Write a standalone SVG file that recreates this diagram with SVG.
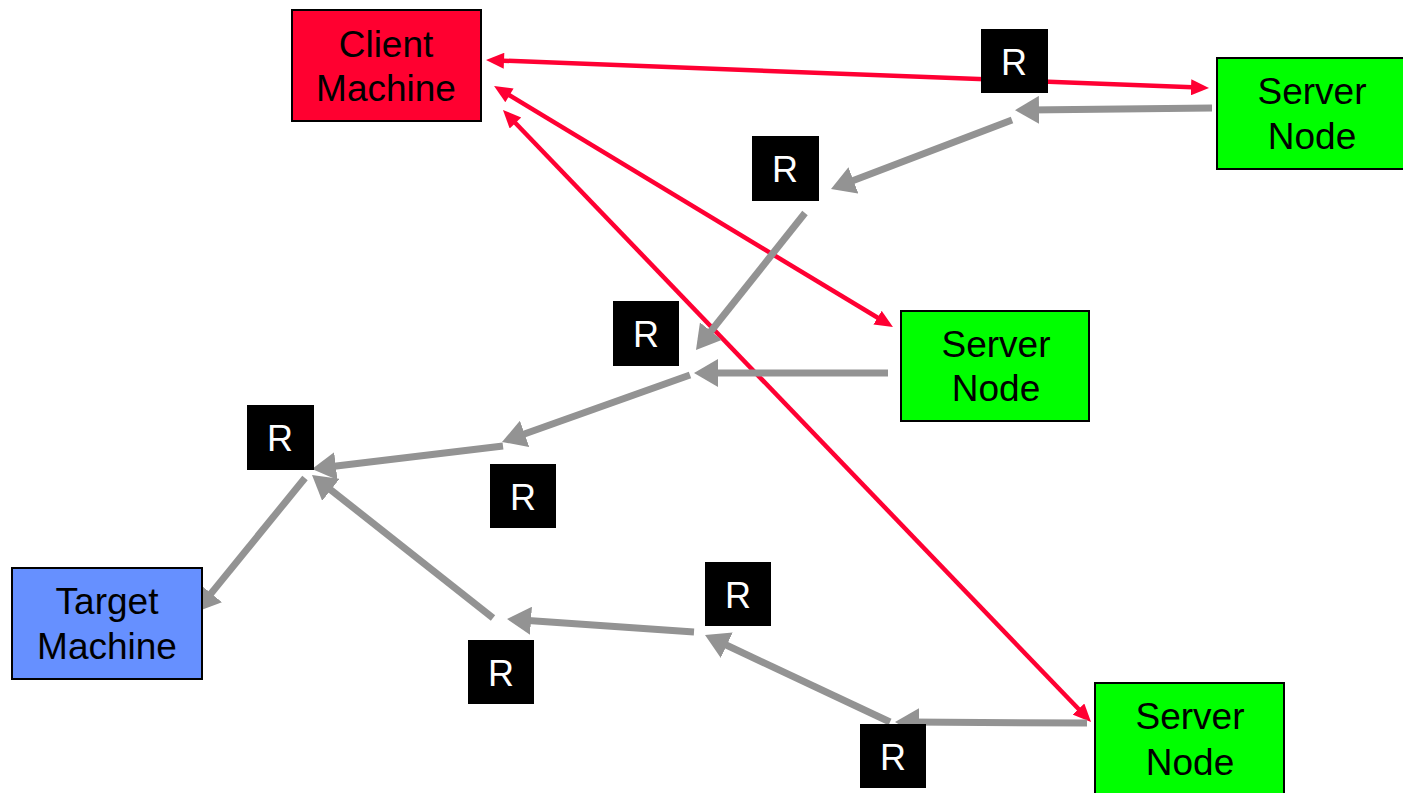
<svg xmlns="http://www.w3.org/2000/svg" width="1403" height="793" viewBox="0 0 1403 793">
<style>
.box{stroke:#000;stroke-width:2}
.lbl{font-family:"Liberation Sans",Arial,sans-serif;font-size:37px;text-anchor:middle;fill:#000}
.r rect{fill:#000}
.r text{font-family:"Liberation Sans",Arial,sans-serif;font-size:36px;text-anchor:middle;fill:#fff}
.red{stroke:#ff0033;stroke-width:4.5;fill:none;marker-start:url(#rs);marker-end:url(#re)}
.gray{stroke:#939393;stroke-width:7;fill:none;marker-end:url(#ge)}
</style>
<defs>
<marker id="re" markerUnits="userSpaceOnUse" markerWidth="20" markerHeight="16" refX="8" refY="8" orient="auto"><path d="M0,0 L18,8 L0,16 Z" fill="#ff0033"/></marker>
<marker id="rs" markerUnits="userSpaceOnUse" markerWidth="20" markerHeight="16" refX="10" refY="8" orient="auto"><path d="M18,0 L0,8 L18,16 Z" fill="#ff0033"/></marker>
<marker id="ge" markerUnits="userSpaceOnUse" markerWidth="26" markerHeight="28" refX="10" refY="14" orient="auto"><path d="M0,0 L24,14 L0,28 Z" fill="#939393"/></marker>
</defs>
<rect width="1403" height="793" fill="#fff"/>
<g id="connectors">
<line class="red" x1="496" y1="60.4" x2="1199" y2="87.6"/>
<line class="red" x1="502.6" y1="91.2" x2="884.4" y2="321.8"/>
<line class="red" x1="509.9" y1="117.2" x2="1084.1" y2="714.8"/>
<line class="gray" x1="1212" y1="108" x2="1029" y2="110"/>
<line class="gray" x1="1012" y1="120" x2="844.1" y2="184"/>
<line class="gray" x1="805" y1="213" x2="704.7" y2="339"/>
<line class="gray" x1="888" y1="373" x2="708" y2="373"/>
<line class="gray" x1="690" y1="375" x2="515.2" y2="437.3"/>
<line class="gray" x1="503" y1="446" x2="325.9" y2="467.3"/>
<line class="gray" x1="305" y1="478" x2="204.8" y2="601.1"/>
<line class="gray" x1="1087" y1="723" x2="909" y2="722.1"/>
<line class="gray" x1="890" y1="722" x2="717.7" y2="641"/>
<line class="gray" x1="694" y1="632" x2="521" y2="620"/>
<line class="gray" x1="493" y1="618" x2="323" y2="483.7"/>
</g>
<g id="client">
<rect class="box" x="292" y="10" width="189" height="111" fill="#ff0030"/>
<text class="lbl" x="386" y="57">Client</text>
<text class="lbl" x="386" y="101">Machine</text>
</g>
<g id="server1">
<rect class="box" x="1217" y="58" width="190" height="111" fill="#00ff00"/>
<text class="lbl" x="1312" y="104">Server</text>
<text class="lbl" x="1312" y="149">Node</text>
</g>
<g id="server2">
<rect class="box" x="901" y="311" width="188" height="110" fill="#00ff00"/>
<text class="lbl" x="996" y="357">Server</text>
<text class="lbl" x="996" y="401">Node</text>
</g>
<g id="server3">
<rect class="box" x="1095" y="683" width="189" height="115" fill="#00ff00"/>
<text class="lbl" x="1190" y="729">Server</text>
<text class="lbl" x="1190" y="775">Node</text>
</g>
<g id="target">
<rect class="box" x="12" y="568" width="190" height="111" fill="#6690ff"/>
<text class="lbl" x="107" y="614">Target</text>
<text class="lbl" x="107" y="659">Machine</text>
</g>
<g id="r1" class="r"><rect x="981" y="29" width="67" height="64"/><text x="1014" y="75">R</text></g>
<g id="r2" class="r"><rect x="752" y="136" width="67" height="65"/><text x="785" y="182">R</text></g>
<g id="r3" class="r"><rect x="613" y="301" width="66" height="65"/><text x="646" y="347">R</text></g>
<g id="r4" class="r"><rect x="247" y="405" width="67" height="65"/><text x="280" y="451">R</text></g>
<g id="r5" class="r"><rect x="490" y="464" width="66" height="64"/><text x="523" y="510">R</text></g>
<g id="r6" class="r"><rect x="705" y="562" width="66" height="64"/><text x="738" y="608">R</text></g>
<g id="r7" class="r"><rect x="468" y="640" width="66" height="64"/><text x="501" y="686">R</text></g>
<g id="r8" class="r"><rect x="860" y="724" width="66" height="64"/><text x="893" y="770">R</text></g>
</svg>
